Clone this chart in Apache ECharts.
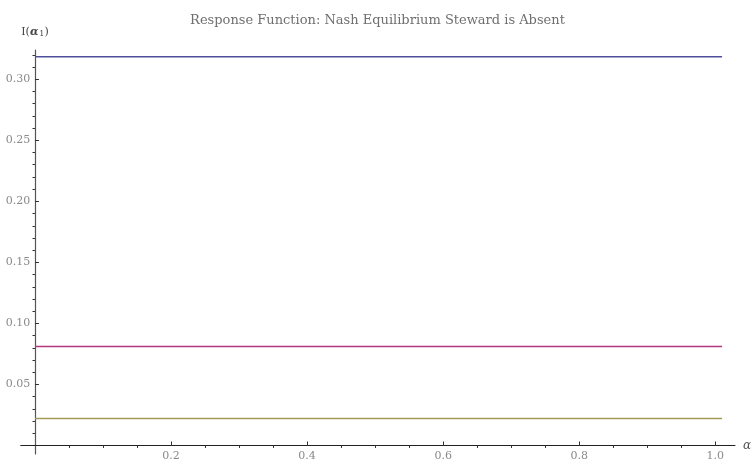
<!DOCTYPE html>
<html>
<head>
<meta charset="utf-8">
<title>Response Function: Nash Equilibrium Steward is Absent</title>
<script src="https://cdn.jsdelivr.net/npm/echarts@6/dist/echarts.min.js"></script>
<style>
  html, body { margin: 0; padding: 0; background: #ffffff; }
  #chart { width: 755px; height: 461px; }
</style>
</head>
<body>
<div id="chart"></div>
<script>
// Response levels I(α1) for the three cases, constant in α
const alphaRange = [0, 1.01];
const responseTop = [0.3185, 0.3185];
const responseMid = [0.0811, 0.0811];
const responseLow = [0.0221, 0.0221];

// Tick positions and labels
const xMajorTicks = [0.2, 0.4, 0.6, 0.8, 1.0];
const xMinorTicks = [0.05, 0.1, 0.15, 0.25, 0.3, 0.35, 0.45, 0.5, 0.55, 0.65, 0.7, 0.75, 0.85, 0.9, 0.95, 1.05];
const yMajorTicks = [0.05, 0.10, 0.15, 0.20, 0.25, 0.30];
const yMinorTicks = [0.01, 0.02, 0.03, 0.04, 0.06, 0.07, 0.08, 0.09, 0.11, 0.12, 0.13, 0.14,
                     0.16, 0.17, 0.18, 0.19, 0.21, 0.22, 0.23, 0.24, 0.26, 0.27, 0.28, 0.29, 0.31, 0.32];

const FONT = 'DejaVu Serif';
const X_MIN = -0.021, X_MAX = 1.029;
const Y_MIN = -0.007, Y_MAX = 0.324;

function pairs(xs, ys) { return xs.map((x, i) => [x, ys[i]]); }

const chart = echarts.init(document.getElementById('chart'), null, { renderer: 'canvas' });

const baseX = {
  type: 'value', min: X_MIN, max: X_MAX,
  splitLine: { show: false },
  axisLine: { onZero: true }
};
const baseY = {
  type: 'value', min: Y_MIN, max: Y_MAX,
  splitLine: { show: false },
  axisLine: { onZero: true }
};

chart.setOption({
  animation: false,
  backgroundColor: '#ffffff',
  title: {
    text: 'Response Function: Nash Equilibrium Steward is Absent',
    left: 'center',
    top: 9,
    textStyle: { fontFamily: FONT, fontSize: 13, fontWeight: 'normal', color: '#6f6f6f' }
  },
  grid: { left: 20.7, right: 20, top: 50, bottom: 7, containLabel: false, outerBoundsMode: 'none' },
  xAxis: [
    Object.assign({}, baseX, {
      name: 'α',
      nameLocation: 'end',
      nameGap: 8,
      nameTextStyle: { fontFamily: FONT, fontStyle: 'italic', fontSize: 12, color: '#555555' },
      axisLine: { onZero: true, lineStyle: { color: '#222222', width: 1 } },
      axisTick: { show: true, inside: true, length: 4, customValues: xMajorTicks,
                  lineStyle: { color: '#333333', width: 1 } },
      // labels sit just below the zero line, which lies above the grid's bottom edge
      axisLabel: { show: true, margin: -3.5, customValues: xMajorTicks,
                   fontFamily: FONT, fontSize: 11, color: '#8a8a8a',
                   formatter: v => v.toFixed(1) }
    }),
    Object.assign({}, baseX, {
      axisLine: { show: false, onZero: true },
      axisTick: { show: true, inside: true, length: 2.5, customValues: xMinorTicks,
                  lineStyle: { color: '#333333', width: 1 } },
      axisLabel: { show: false }
    })
  ],
  yAxis: [
    Object.assign({}, baseY, {
      name: '{n|I(}{a|α}{s|1}{n|)}',
      nameLocation: 'end',
      nameGap: 12,
      nameTextStyle: {
        rich: {
          n: { fontFamily: FONT, fontSize: 11, color: '#444444' },
          a: { fontFamily: FONT, fontSize: 11, fontStyle: 'italic', fontWeight: 'bold', color: '#444444' },
          s: { fontFamily: FONT, fontSize: 8, color: '#444444', verticalAlign: 'bottom', padding: [4, 0, 0, 1] }
        }
      },
      axisLine: { onZero: true, lineStyle: { color: '#555555', width: 1.2 } },
      axisTick: { show: true, inside: true, length: 4, customValues: yMajorTicks,
                  lineStyle: { color: '#333333', width: 1 } },
      // labels sit just left of the zero line, which lies right of the grid's left edge
      axisLabel: { show: true, margin: -9.5, customValues: yMajorTicks,
                   fontFamily: FONT, fontSize: 11, color: '#8a8a8a',
                   formatter: v => v.toFixed(2) }
    }),
    Object.assign({}, baseY, {
      axisLine: { show: false, onZero: true },
      axisTick: { show: true, inside: true, length: 2.5, customValues: yMinorTicks,
                  lineStyle: { color: '#333333', width: 1 } },
      axisLabel: { show: false }
    })
  ],
  series: [
    { type: 'line', xAxisIndex: 0, yAxisIndex: 0, data: pairs(alphaRange, responseTop),
      showSymbol: false, lineStyle: { color: '#4e509b', width: 1.4 } },
    { type: 'line', xAxisIndex: 0, yAxisIndex: 0, data: pairs(alphaRange, responseMid),
      showSymbol: false, lineStyle: { color: '#b2377f', width: 1.4 } },
    { type: 'line', xAxisIndex: 0, yAxisIndex: 0, data: pairs(alphaRange, responseLow),
      showSymbol: false, lineStyle: { color: '#a39a57', width: 1.4 } }
  ]
});
</script>
</body>
</html>
